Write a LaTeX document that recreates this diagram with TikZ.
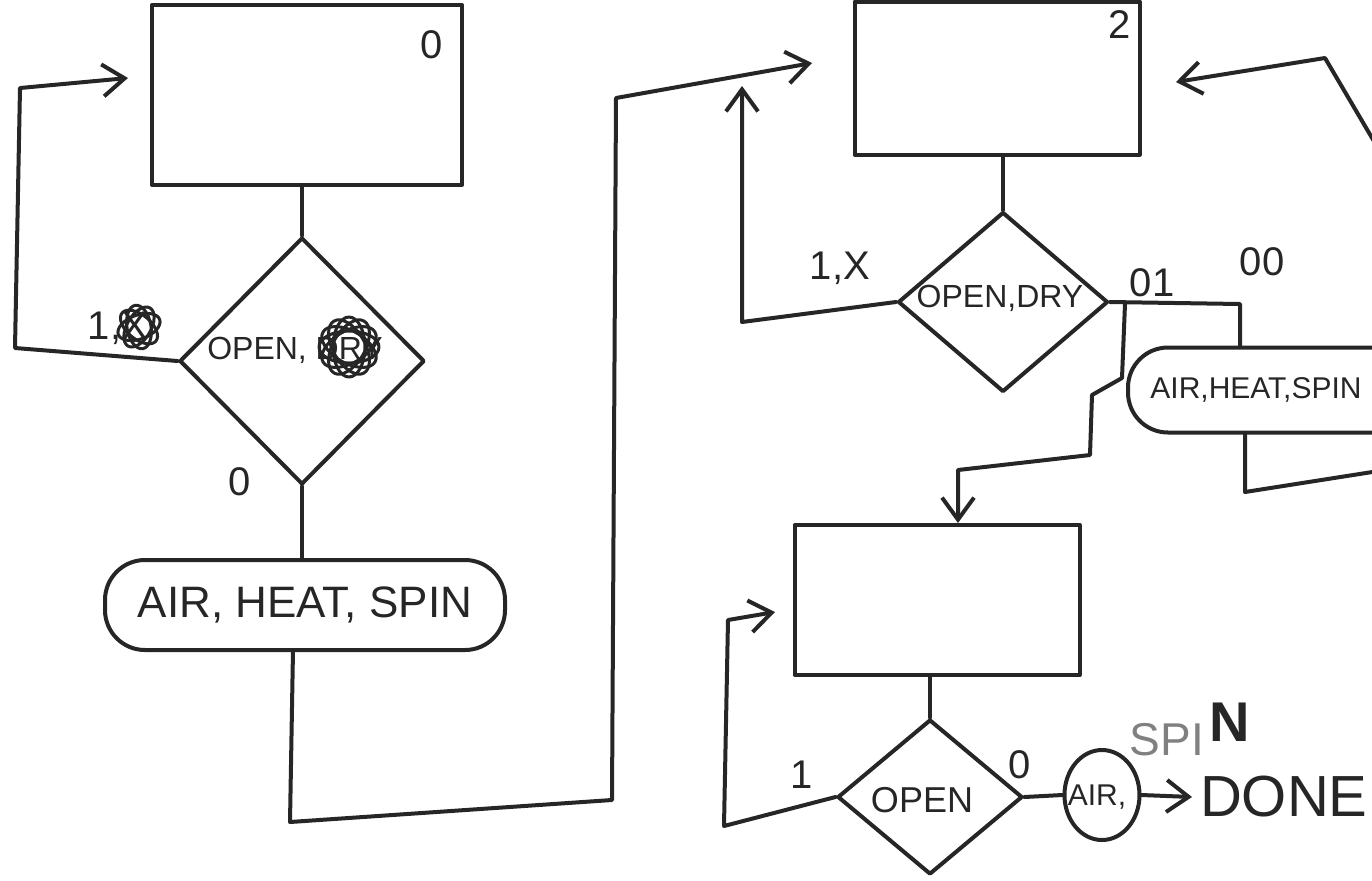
\documentclass[tikz,border=0pt]{standalone}
\usepackage{fontspec}
\setmainfont{Liberation Sans}
\usetikzlibrary{shapes.geometric,arrows.meta,calc}
\begin{document}
\begin{tikzpicture}[x=0.5pt,y=-0.5pt,
  line width=2pt, line join=round, line cap=round, color={black!85},
  box/.style={draw, rectangle, inner sep=0pt},
  dia/.style={draw, diamond, inner sep=0pt, aspect=1},
  pill/.style={draw, rectangle, rounded corners=20pt, inner sep=0pt},
  lbl/.style={font=\fontsize{20}{22}\selectfont},
  dtxt/.style={font=\fontsize{16}{18}\selectfont},
  arr/.style={-{Straight Barb[length=11pt,width=16pt,line width=2pt]}},
  scrib/.style={line width=1.5pt}]
\useasboundingbox (0,0) rectangle (1372,880);
\clip (0,0) rectangle (1372,880);

% ---------- left column ----------
\node[box, minimum width=155pt, minimum height=90pt] (r0) at (307,95) {};
\node[lbl] (n0) at (432,45) {0};
\node[dia, minimum width=122.5pt, minimum height=123.5pt] (d1) at (302,361) {};
\node[dtxt] (t1) at (295,350) {OPEN, DRY};
\foreach \a in {0,30,60,90,120,150}
  \draw[scrib, rotate around={\a:(349,347)}] (349,347) ellipse (15pt and 8pt);
\node[lbl] (l1) at (118,328) {1,X};
\foreach \a in {20,60,100,140}
  \draw[scrib, rotate around={\a:(139,327)}] (139,327) ellipse (11pt and 6pt);
\node[pill, minimum width=200pt, minimum height=45pt, font=\fontsize{22}{24}\selectfont] (o1) at (305,605) {AIR, HEAT, SPIN};
\node[lbl] (z1) at (240,482) {0};

\draw (d1.north) -- (d1.north |- r0.south);
\coordinate (a1) at (15,348);
\coordinate (a2) at (20,88);
\coordinate (a3) at (128,78);
\draw[arr] (d1.west) -- (a1) -- (a2) -- (a3);
\draw (d1.south) -- (d1.south |- o1.north);
\coordinate (b0) at (293,650);
\coordinate (b1) at (290,822);
\coordinate (b2) at (612,800);
\coordinate (b3) at (616,98);
\coordinate (b4) at (812,63);
\draw[arr] (b0) -- (b1) -- (b2) -- (b3) -- (b4);

% ---------- right column ----------
\node[box, minimum width=142.5pt, minimum height=76.5pt] (r2) at (997,78) {};
\node[lbl] (n2) at (1120,25) {2};
\node[dia, minimum width=105pt, minimum height=90pt] (d2) at (1003,302) {};
\node[dtxt] (t2) at (1000,298) {OPEN,DRY};
\node[lbl] (l2) at (840,268) {1,X};
\node[lbl] (l01) at (1152,283) {01};
\node[lbl] (l00) at (1262,262) {00};
\node[pill, minimum width=162pt, minimum height=42.5pt] (o2) at (1290,390) {};
\node[font=\fontsize{15}{17}\selectfont] (t5) at (1256,390) {AIR,HEAT,SPIN};

\draw (d2.north) -- (d2.north |- r2.south);
\coordinate (c1) at (742,322);
\coordinate (c2) at (742,86);
\draw[arr] (d2.west) -- (c1) -- (c2);
\coordinate (j1) at (1125,304);
\coordinate (j2) at (1240,304);
\draw (d2.east) -- (j2) -- (j2 |- o2.north);
\coordinate (f1) at (1245,492);
\coordinate (f2) at (1385,470);
\draw ([xshift=-22.5pt]o2.south) -- (f1) -- (f2);
\coordinate (g1) at (1385,160);
\coordinate (g2) at (1325,58);
\coordinate (g3) at (1176,82);
\draw[arr] (g1) -- (g2) -- (g3);

\node[box, minimum width=142.5pt, minimum height=75pt] (r3) at (937,600) {};
\coordinate (e1) at (1122,378);
\coordinate (e2) at (1092,395);
\coordinate (e3) at (1090,455);
\coordinate (e4) at (958,470);
\draw[arr] (j1) -- (e1) -- (e2) -- (e3) -- (e4) -- (e4 |- r3.north);

\node[dia, minimum width=92.5pt, minimum height=77.5pt] (d3) at (930,797) {};
\node[font=\fontsize{18}{20}\selectfont] (t3) at (922,800) {OPEN};
\node[lbl] (l1b) at (802,775) {1};
\node[lbl] (l0b) at (1020,765) {0};
\node[draw, ellipse, inner sep=0pt, minimum width=37.5pt, minimum height=45pt] (o3) at (1102,795) {};
\node[font=\fontsize{15}{17}\selectfont] (t4) at (1097,797) {AIR,};
\node[anchor=east, inner sep=0pt, text=gray, font=\fontsize{23}{25}\selectfont] (spi) at (1206,740) {SPI};
\node[anchor=west, inner sep=0pt, font=\fontsize{28}{30}\bfseries\selectfont] (spn) at (1207,722) {N};
\node[anchor=west, inner sep=0pt, font=\fontsize{29}{31}\selectfont] (done) at (1198,797) {DONE};

\draw (d3.north) -- (d3.north |- r3.south);
\coordinate (h1) at (724,826);
\coordinate (h2) at (728,620);
\coordinate (h3) at (775,612);
\draw[arr] (d3.west) -- (h1) -- (h2) -- (h3);
\draw (d3.east) -- (o3.west);
\draw[arr] (o3.east) -- ([xshift=-3pt]done.west);
\end{tikzpicture}
\end{document}
